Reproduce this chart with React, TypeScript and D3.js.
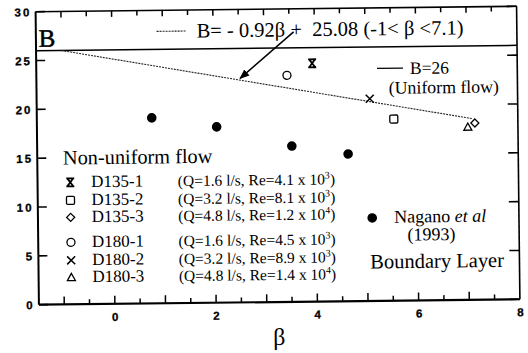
import React from "react";
import * as d3 from "d3";

const W = 528, H = 353;
const xDomain: [number, number] = [-1.5, 8];
const yDomain: [number, number] = [0, 30];
const xTickLabels = [0, 2, 4, 6, 8];
const yTickLabels = [0, 5, 10, 15, 20, 25, 30];

type Pt = { beta: number; B: number };
const D135_1: Pt[] = [{ beta: 3.95, B: 24.4 }];
const D135_2: Pt[] = [{ beta: 5.55, B: 18.6 }];
const D135_3: Pt[] = [{ beta: 7.15, B: 18.1 }];
const D180_1: Pt[] = [{ beta: 3.45, B: 23.2 }];
const D180_2: Pt[] = [{ beta: 5.08, B: 20.7 }];
const D180_3: Pt[] = [{ beta: 7.01, B: 17.7 }];
const nagano: Pt[] = [
  { beta: 0.77, B: 19.0 },
  { beta: 2.05, B: 18.0 },
  { beta: 3.53, B: 15.95 },
  { beta: 4.64, B: 15.07 },
];
const slope = -0.92, intercept = 25.08;
const fitRange: [number, number] = [-1, 7.1];
const uniformB = 26;

const legendNames = ["D135-1", "D135-2", "D135-3", "D180-1", "D180-2", "D180-3"];
const legendQ = ["1.6", "3.2", "4.8", "1.6", "3.2", "4.8"];
const legendRe = ["4.1", "8.1", "1.2", "4.5", "8.9", "1.4"];
const legendExp = ["3", "3", "4", "3", "3", "4"];
const legendSyms = ["hour", "square", "diamond", "circle", "x", "tri"];

const serif = "'Liberation Serif', 'Times New Roman', serif";
const sans = "'Liberation Sans', Arial, sans-serif";

function Sym({ kind, x, y }: { kind: string; x: number; y: number }) {
  const s = 4;
  const st = { fill: "none", stroke: "#000", strokeWidth: 1.3 };
  if (kind === "hour")
    return (
      <path
        d={`M${x - s},${y - s}H${x + s}M${x - s},${y + s}H${x + s}M${x - s + 1},${y - s}L${x + s - 1},${y + s}M${x + s - 1},${y - s}L${x - s + 1},${y + s}`}
        fill="none"
        stroke="#000"
        strokeWidth={1.8}
      />
    );
  if (kind === "square") return <rect x={x - s} y={y - s} width={2 * s} height={2 * s} rx={1.2} {...st} />;
  if (kind === "diamond")
    return <path d={`M${x},${y - s}L${x + s},${y}L${x},${y + s}L${x - s},${y}Z`} {...st} />;
  if (kind === "circle") return <circle cx={x} cy={y} r={s} {...st} />;
  if (kind === "x")
    return <path d={`M${x - s},${y - s}L${x + s},${y + s}M${x + s},${y - s}L${x - s},${y + s}`} {...st} strokeWidth={1.5} />;
  if (kind === "tri")
    return <path d={`M${x},${y - s}L${x + s},${y + s * 0.8}L${x - s},${y + s * 0.8}Z`} {...st} />;
  return <circle cx={x} cy={y} r={4.5} fill="#000" />;
}

export default function App() {
  const x = d3.scaleLinear().domain(xDomain).range([37.25, 518.25]);
  const y = d3.scaleLinear().domain(yDomain).range([302, 9]);
  const minorX = d3.range(-1, 7.51, 0.5);
  const fitLine = d3
    .line<number>()
    .x((b) => x(b))
    .y((b) => y(slope * b + intercept))(fitRange);
  const series: [Pt[], string][] = [
    [D135_1, "hour"],
    [D135_2, "square"],
    [D135_3, "diamond"],
    [D180_1, "circle"],
    [D180_2, "x"],
    [D180_3, "tri"],
  ];
  const legY = [185, 203, 220, 245, 263, 280];
  const [x0, x1] = x.range();
  const [y0, y1] = y.range();
  return (
    <svg width={W} height={H} style={{ position: "absolute", left: 0, top: 0, background: "#fff" }}>
      <defs>
        <marker id="ah" markerWidth="10" markerHeight="8" refX="9" refY="4" orient="auto" markerUnits="userSpaceOnUse">
          <path d="M0,0L10,4L0,8Z" fill="#000" />
        </marker>
      </defs>
      <g transform="rotate(-0.65, 277.75, 155.5)">
        {/* frame */}
        <line x1={x0} x2={x1} y1={y1} y2={y1} stroke="#000" strokeWidth={1.6} />
        <line x1={x1} x2={x1} y1={y1} y2={y0} stroke="#000" strokeWidth={1.6} />
        <line x1={x0} x2={x0} y1={y1} y2={y0} stroke="#000" strokeWidth={2} />
        <line x1={x0} x2={x1} y1={y0} y2={y0} stroke="#000" strokeWidth={2.2} />
        {/* x ticks */}
        {minorX.map((v) => {
          const major = Number.isInteger(v);
          return (
            <g key={"xt" + v}>
              <line x1={x(v)} x2={x(v)} y1={y0} y2={y0 - (major ? 8 : 5)} stroke="#000" strokeWidth={1.5} />
              <line x1={x(v)} x2={x(v)} y1={y1} y2={y1 + (major ? 6 : 5)} stroke="#000" strokeWidth={1.5} />
            </g>
          );
        })}
        {xTickLabels.map((v) => (
          <text key={"xl" + v} x={x(v) + 1} y={319} textAnchor="middle" fontFamily={sans} fontWeight="bold" fontSize={11.5} letterSpacing={1.5} stroke="#000" strokeWidth={0.3}>
            {v}
          </text>
        ))}
        {/* y ticks */}
        {yTickLabels.map((v) => (
          <g key={"yt" + v}>
            <line x1={x0} x2={x0 + 9} y1={y(v)} y2={y(v)} stroke="#000" strokeWidth={1.6} />
            <line x1={x1} x2={x1 - 10} y1={y(v)} y2={y(v)} stroke="#000" strokeWidth={1.6} />
            <text x={33} y={y(v) + 4.5} textAnchor="end" fontFamily={sans} fontWeight="bold" fontSize={11.5} letterSpacing={2} stroke="#000" strokeWidth={0.3}>
              {v}
            </text>
          </g>
        ))}
        {/* axis titles */}
        <text x={40} y={44} fontFamily={serif} fontSize={25} stroke="#000" strokeWidth={0.5}>B</text>
        <text x={271} y={345} fontFamily={serif} fontSize={24}>β</text>
        {/* uniform flow line */}
        <line x1={x0} x2={x1} y1={y(uniformB)} y2={y(uniformB)} stroke="#000" strokeWidth={1.5} />
        {/* fit line */}
        <path d={fitLine ?? ""} fill="none" stroke="#222" strokeWidth={1.1} strokeDasharray="2,1" />
        {/* top legend */}
        <line x1={158} x2={188} y1={30} y2={30} stroke="#222" strokeWidth={1.1} strokeDasharray="2,1" />
        <text x={198} y={36.5} fontFamily={serif} fontSize={20.5}>
          {"B= - 0.92β +\u00A0\u00A025.08 (-1< β <7.1)"}
        </text>
        <line x1={295} x2={241} y1={32} y2={78} stroke="#000" strokeWidth={1.5} markerEnd="url(#ah)" />
        <line x1={378} x2={404} y1={69.5} y2={69.5} stroke="#000" strokeWidth={1.3} />
        <text x={411} y={75.5} fontFamily={serif} fontSize={17.5}>B=26</text>
        <text x={389.5} y={95} fontFamily={serif} fontSize={17.8}>(Uniform flow)</text>
        {/* data */}
        {series.map(([pts, kind]) =>
          pts.map((p, i) => <Sym key={kind + i} kind={kind} x={x(p.beta)} y={y(p.B)} />)
        )}
        {nagano.map((p, i) => (
          <circle key={"n" + i} cx={x(p.beta)} cy={y(p.B)} r={4.8} fill="#000" />
        ))}
        {/* legend */}
        <text x={63} y={162} fontFamily={serif} fontSize={20.3}>Non-uniform flow</text>
        {legendNames.map((n, i) => (
          <g key={n}>
            <Sym kind={legendSyms[i]} x={70} y={legY[i] - 5} />
            <text x={91} y={legY[i]} fontFamily={serif} fontSize={17}>{n}</text>
            <text x={177.5} y={legY[i]} fontFamily={serif} fontSize={15.5}>
              (Q={legendQ[i]} l/s, Re={legendRe[i]} x 10
              <tspan dy={-6} fontSize={10}>{legendExp[i]}</tspan>
              <tspan dy={6}>)</tspan>
            </text>
          </g>
        ))}
        <circle cx={371.5} cy={219} r={4.8} fill="#000" />
        <text x={393.5} y={224} fontFamily={serif} fontSize={18}>
          Nagano <tspan fontStyle="italic">et al</tspan>
        </text>
        <text x={430.5} y={242} textAnchor="middle" fontFamily={serif} fontSize={18}>(1993)</text>
        <text x={369} y={269.5} fontFamily={serif} fontSize={20.5}>Boundary Layer</text>
      </g>
    </svg>
  );
}
